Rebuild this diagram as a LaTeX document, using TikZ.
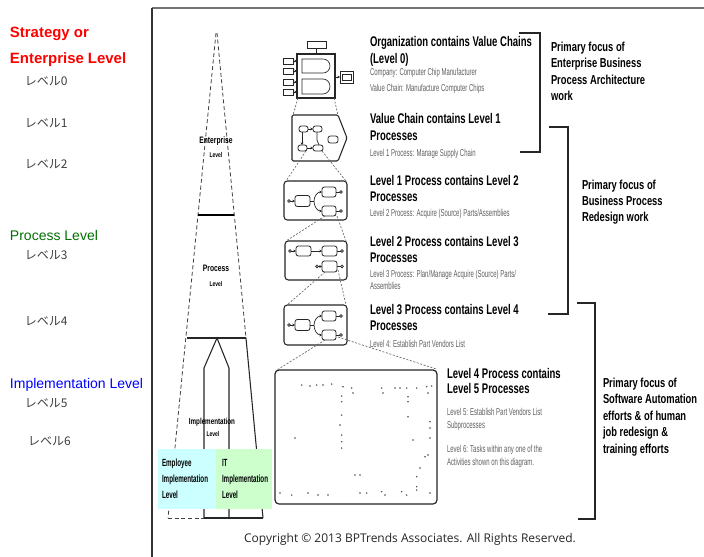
\documentclass[tikz,border=0pt]{standalone}
\usepackage{fontspec}
\setmainfont{Liberation Sans}
\newfontfamily\cndA[FakeStretch=0.68]{Liberation Sans}
\newfontfamily\cndB[FakeStretch=0.72]{Liberation Sans}
\newfontfamily\cndC[FakeStretch=0.6]{Liberation Sans}
\newfontfamily\jpf{Noto Sans CJK JP}
\newfontfamily\cpf{Open Sans}
\newcommand\fsz[1]{\fontsize{#1}{#1}\selectfont}
\usetikzlibrary{arrows.meta}
\definecolor{cyanbox}{HTML}{CCFFFF}
\definecolor{greenbox}{HTML}{CCFFCC}
\definecolor{darkgreen}{HTML}{007000}
\definecolor{txtgray}{HTML}{606060}
\definecolor{jpgray}{HTML}{404040}
\begin{document}
\begin{tikzpicture}[x=0.75pt,y=-0.75pt,
  tx/.style={anchor=base west, inner sep=0pt, outer sep=0pt},
  txc/.style={anchor=base, inner sep=0pt, outer sep=0pt},
  redlbl/.style={tx, text=red, font=\fsz{11.2pt}\bfseries},
  jplbl/.style={tx, text=jpgray, font=\jpf\fsz{9pt}},
  head/.style={tx, text=black, font=\cndA\bfseries\fsz{10.5pt}},
  sub/.style={tx, text=txtgray, font=\cndC\fsz{7.5pt}},
  focus/.style={tx, text=black, font=\cndB\bfseries\fsz{9.75pt}},
  pyl/.style={txc, text=black, font=\cndB\bfseries\fsz{7pt}},
  pys2/.style={txc, text=black, font=\cndB\bfseries\fsz{5.2pt}},
  boxt/.style={tx, text=black, font=\cndC\bfseries\fsz{7.8pt}},
  pyd/.style={draw=black!75, line width=0.6pt, dash pattern=on 3pt off 2pt},
  pys/.style={draw=black!85, line width=0.8pt},
  brk/.style={draw=black!85, line width=0.9pt},
  ibox/.style={draw=black!85, line width=0.8pt, rounded corners=2.5pt},
  mb/.style={draw=black!85, line width=0.6pt, rounded corners=1.8pt},
  mline/.style={draw=black!85, line width=0.5pt},
  conn/.style={draw=black!60, line width=0.5pt, dash pattern=on 1.5pt off 1.2pt},
  tip/.style={-{Stealth[length=2pt,width=2pt]}},
  dotm/.style={fill=black!70}
]
\useasboundingbox (0,0) rectangle (704,557);
\fill[white] (0,0) rectangle (704,557);

% ---------- left labels
\node[redlbl] (s1) at (10,37.5) {Strategy or};
\node[redlbl] (s2) at (10,63.5) {Enterprise Level};
\node[jplbl] (l0) at (25,85) {レベル0};
\node[jplbl] (l1) at (25,127) {レベル1};
\node[jplbl] (l2) at (25,168) {レベル2};
\node[tx, text=darkgreen, font=\fsz{10.5pt}] (pl) at (10,240) {Process Level};
\node[jplbl] (l3) at (25,259) {レベル3};
\node[jplbl] (l4) at (25,325) {レベル4};
\node[tx, text=blue, font=\fsz{10.5pt}] (il) at (10,388) {Implementation Level};
\node[jplbl] (l5) at (25,407) {レベル5};
\node[jplbl] (l6) at (28,445) {レベル6};

% ---------- frame
\draw[black!55, line width=1.5pt] (152,8) -- (704,8);
\draw[black!80, line width=1pt] (152,8) -- (152,557);

% ---------- pyramid
\draw[pyd] (216,33) -- (168,518);
\draw[pyd] (217,33) -- (246,338);
\draw[pys] (246,338) -- (263,518);
\draw[pys] (187,338) -- (246,338);
\draw[black, line width=1.5pt] (198,215) -- (234,215);
\draw[pys] (204,518) -- (204,368) -- (217,338) -- (229,368) -- (229,518);
\draw[pys] (204,518) -- (263,518);
\draw[pyd] (168,518) -- (204,518);

\node[pyl] (pe1) at (216,143) {Enterprise};
\node[pys2] (pe2) at (216,157.5) {Level};
\node[pyl] (pp1) at (216,271) {Process};
\node[pys2] (pp2) at (216,286.5) {Level};
\node[pyl, font=\cndB\bfseries\fsz{6.5pt}] (pi1) at (212,424) {Implementation};
\node[pys2] (pi2) at (213,436.5) {Level};

\fill[cyanbox] (158,449) rectangle (216,509);
\fill[greenbox] (216,449) rectangle (272,509);
\node[boxt] (e1) at (162,466.5) {Employee};
\node[boxt] (e2) at (162,482.5) {Implementation};
\node[boxt] (e3) at (162,498.5) {Level};
\node[boxt] (t1) at (222,466.5) {IT};
\node[boxt] (t2) at (222,482.5) {Implementation};
\node[boxt] (t3) at (222,498.5) {Level};

% ---------- icon 0 : organization
\draw[ibox, rounded corners=0pt] (297,54) rectangle (335,98);
\draw[mb, rounded corners=0pt] (307,41) rectangle (326,48);
\draw[mline] (316,48) -- (316,54);
\foreach \yy in {61,71,82,92}{
  \draw[mb, rounded corners=0pt] (283,\yy-3) rectangle (293,\yy+3);
  \draw[mline, tip] (293,\yy) -- (297,\yy);
}
\draw[mline] (302,59) -- (323,59) to[out=0,in=90] (330,66) to[out=-90,in=0] (323,73) -- (302,73) -- cycle;
\draw[mline] (302,79) -- (323,79) to[out=0,in=90] (330,86.5) to[out=-90,in=0] (323,94) -- (302,94) -- cycle;
\draw[mb, rounded corners=0pt] (340,71) rectangle (353,83);
\draw[mline] (342,74) rectangle (351,80);
\draw[mline, tip] (335,77) -- (340,77);

% ---------- icon 1 : value chain
\draw[ibox, rounded corners=1pt] (292,115) -- (338,115) -- (347,138) -- (338,161) -- (292,161) -- cycle;
\draw[mb] (299,126) rectangle (308,132);
\draw[mb] (313,126) rectangle (322,132);
\draw[mb] (298,145) rectangle (307,151);
\draw[mb] (313,145) rectangle (323,151);
\draw[mb] (328,136) rectangle (338,143);
\draw[mline, tip] (308,129) -- (313,129);
\draw[mline, tip] (302,132) -- (302,145);
\draw[mline, tip] (307,148) -- (313,148);
\draw[mline] (317,132) -- (317,140) -- (319,145);

% ---------- icon 2 : level 1 process
\draw[ibox] (284,181) rectangle (347,220);
\draw[mline] (289,201) circle (1.3);
\draw[mline, tip] (290.3,201) -- (295,201);
\draw[mb] (295,195.5) rectangle (310,206.5);
\draw[mline] (310,201) -- (314,201);
\draw[mline, tip] (314,201) to[out=90,in=180] (322,192);
\draw[mline, tip] (314,201) to[out=-90,in=180] (322,211);
\draw[mb] (322,187) rectangle (336,197);
\draw[mb] (322,206) rectangle (336,216);
\draw[mline] (336,192) -- (339.5,192); \draw[mline] (341,192) circle (1.3);
\draw[mline] (336,211) -- (339.5,211); \draw[mline] (341,211) circle (1.3);

% ---------- icon 3 : level 2 process
\draw[ibox] (285,241) rectangle (347,280);
\draw[mline] (290,251) circle (1.3);
\draw[mline, tip] (291.3,251) -- (296,251);
\draw[mb] (296,246) rectangle (311,256);
\draw[mline, tip] (311,251) -- (322,251);
\draw[mb] (322,246) rectangle (337,256);
\draw[mline] (337,251) -- (340.5,251); \draw[mline] (342,251) circle (1.3);
\draw[mline] (317,266.5) circle (1.3);
\draw[mline, tip] (318.3,266.5) -- (322,266.5);
\draw[mb] (322,261) rectangle (337,272);
\draw[mline] (337,266.5) -- (340.5,266.5); \draw[mline] (342,266.5) circle (1.3);

% ---------- icon 4 : level 3 process
\begin{scope}[shift={(0,124)}]
\draw[ibox] (284,181) rectangle (347,221);
\draw[mline] (289,201) circle (1.3);
\draw[mline, tip] (290.3,201) -- (295,201);
\draw[mb] (295,195.5) rectangle (310,206.5);
\draw[mline] (310,201) -- (314,201);
\draw[mline, tip] (314,201) to[out=90,in=180] (322,192);
\draw[mline, tip] (314,201) to[out=-90,in=180] (322,211);
\draw[mb] (322,187) rectangle (336,197);
\draw[mb] (322,206) rectangle (336,216);
\draw[mline] (336,192) -- (339.5,192); \draw[mline] (341,192) circle (1.3);
\draw[mline] (336,211) -- (339.5,211); \draw[mline] (341,211) circle (1.3);
\end{scope}

% ---------- level 5 diagram
\draw[ibox, line width=0.9pt, rounded corners=3pt] (275,370) rectangle (437,504);
\foreach \px/\py in {301.7/385,310/386,316.7/385,323/385,331.7/384,343/386.7,351.7/388,353/393,341.7/396,341.7/401.7,341.7/415,340/425,341.7/435,341.7/441.7,341.7/448,295/438,381.7/388,383/393,395/388,400/388,406.7/388,416.7/388,426.7/386.7,431.7/386,408/396.7,408/401.7,408/416.7,428/393,430/421.7,430/428,430/438,413/440,425/456.7,428/455,420/468,416.7/476.7,416.7/486.7,355/475,360/475,280/493,291.7/495,308/493,318/495,328/495,360/493,366.7/493,381.7/491.7,385/495,401.7/491.7,406.7/495,416.7/490,430/493}{
  \fill[dotm] (\px,\py) circle (0.8);
}

% ---------- dashed zoom connectors
\draw[conn] (298,98) -- (293,115);
\draw[conn] (334,98) -- (338,115);
\draw[conn] (306,151) -- (286,181);
\draw[conn] (322,151) -- (346,181);
\draw[conn] (325,216) -- (286,241);
\draw[conn] (337,216) -- (346,241);
\draw[conn] (325,272) -- (287,305);
\draw[conn] (338,270) -- (346,305);
\draw[conn] (325,340) -- (277,370);
\draw[conn] (338,337) -- (436,369);

% ---------- level texts
\node[head] (h0a) at (370,46) {Organization contains Value Chains};
\node[head] (h0b) at (370,63) {(Level 0)};
\node[sub] (g0a) at (370,75.5) {Company: Computer Chip Manufacturer};
\node[sub] (g0b) at (370,91.5) {Value Chain: Manufacture Computer Chips};

\node[head] (h1a) at (370,123) {Value Chain contains Level 1};
\node[head] (h1b) at (370,140) {Processes};
\node[sub] (g1) at (370,156.5) {Level 1 Process: Manage Supply Chain};

\node[head] (h2a) at (370,185) {Level 1 Process contains Level 2};
\node[head] (h2b) at (370,201) {Processes};
\node[sub] (g2) at (370,216.5) {Level 2 Process: Acquire (Source) Parts/Assemblies};

\node[head] (h3a) at (370,246) {Level 2 Process contains Level 3};
\node[head] (h3b) at (370,262) {Processes};
\node[sub] (g3a) at (370,277.5) {Level 3 Process: Plan/Manage Acquire (Source) Parts/};
\node[sub] (g3b) at (370,289.5) {Assemblies};

\node[head] (h4a) at (370,314) {Level 3 Process contains Level 4};
\node[head] (h4b) at (370,330) {Processes};
\node[sub] (g4) at (370,347.5) {Level 4: Establish Part Vendors List};

\node[head] (h5a) at (447,378) {Level 4 Process contains};
\node[head] (h5b) at (447,393) {Level 5 Processes};
\node[sub] (g5a) at (447,415.5) {Level 5: Establish Part Vendors List};
\node[sub] (g5b) at (447,428.5) {Subprocesses};
\node[sub] (g6a) at (447,452.5) {Level 6: Tasks within any one of the};
\node[sub] (g6b) at (447,465.5) {Activities shown on this diagram.};

% ---------- brackets
\draw[brk] (519,33) -- (540,33) -- (540,152) -- (520,152);
\draw[brk] (549,127) -- (568,127) -- (568,314) -- (548,314);
\draw[brk] (577,303) -- (595,303) -- (595,519) -- (578,519);

\node[focus] (fa1) at (551,51.6) {Primary focus of};
\node[focus] (fa2) at (551,67.6) {Enterprise Business};
\node[focus] (fa3) at (551,84.6) {Process Architecture};
\node[focus] (fa4) at (551,100.6) {work};

\node[focus] (fb1) at (582,189.6) {Primary focus of};
\node[focus] (fb2) at (582,205.6) {Business Process};
\node[focus] (fb3) at (582,221.6) {Redesign work};

\node[focus] (fc1) at (603,387.6) {Primary focus of};
\node[focus] (fc2) at (603,403.6) {Software Automation};
\node[focus] (fc3) at (603,420.6) {efforts \& of human};
\node[focus] (fc4) at (603,436.6) {job redesign \&};
\node[focus] (fc5) at (603,453.6) {training efforts};

% ---------- copyright
\node[txc, font=\cpf\fsz{9pt}, text=black!85] (cp) at (410,542) {Copyright © 2013 BPTrends Associates. All Rights Reserved.};
\end{tikzpicture}
\end{document}
